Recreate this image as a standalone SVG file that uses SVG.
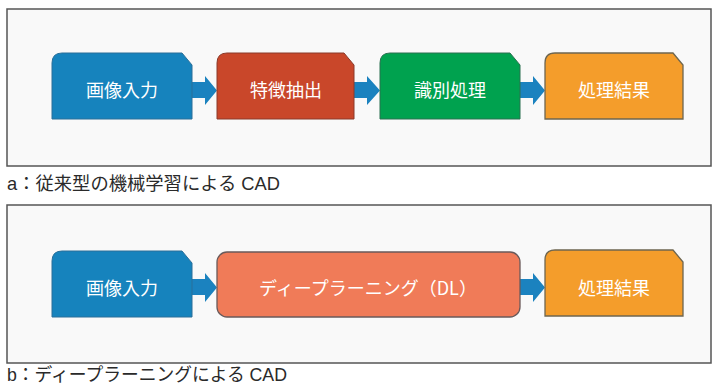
<svg xmlns="http://www.w3.org/2000/svg" width="718" height="388" viewBox="0 0 718 388">
<style>
.frame{fill:#f9f9f9;stroke:#555;stroke-width:1.5}
.lbl{font-family:"Noto Sans CJK JP","Noto Sans",sans-serif;font-size:18px;fill:#fff;text-anchor:middle;dominant-baseline:central}
.cap{font-family:"Liberation Sans","Noto Sans CJK JP",sans-serif;font-size:18.5px;fill:#2a2a2a}
.arr{fill:#1b82bf}
.blue{fill:#1683bd;stroke:#2a6f99;stroke-width:1}
.red{fill:#c9472a;stroke:#8a3a2a;stroke-width:1}
.green{fill:#00a24f;stroke:#2a7050;stroke-width:1}
.orange{fill:#f49d2b;stroke:#6e6650;stroke-width:1.3}
.salmon{fill:#f07b58;stroke:#6a5a5a;stroke-width:1.3}
</style>
<rect class="frame" x="7" y="9" width="704" height="157"/>
<rect class="frame" x="7" y="205" width="704" height="158"/>
<g id="connectors">
<path class="arr" d="M192,82 H205 V76 L217,90.5 L205,105 V98 H192 Z"/>
<path class="arr" d="M354,82 H367 V76 L380,90.5 L367,105 V98 H354 Z"/>
<path class="arr" d="M520,82 H533 V76 L545,90.5 L533,105 V98 H520 Z"/>
<path class="arr" d="M192,279 H205 V273 L217,287.5 L205,302 V295 H192 Z"/>
<path class="arr" d="M520,279 H533 V273 L545,287.5 L533,302 V295 H520 Z"/>
</g>
<g id="a-input">
<path class="blue" d="M52,119 V63 Q52,53 62,53 H182 L192,65 V119 Z"/>
<text class="lbl" x="122" y="89">画像入力</text>
</g>
<g id="a-feature">
<path class="red" d="M217,119 V63 Q217,53 227,53 H344 L354,65 V119 Z"/>
<text class="lbl" x="286" y="89">特徴抽出</text>
</g>
<g id="a-classify">
<path class="green" d="M380,119 V63 Q380,53 390,53 H510 L520,65 V119 Z"/>
<text class="lbl" x="450" y="89">識別処理</text>
</g>
<g id="a-result">
<path class="orange" d="M545,119 V63 Q545,53 555,53 H673 L683,65 V119 Z"/>
<text class="lbl" x="614" y="89">処理結果</text>
</g>
<text class="cap" x="7" y="190" textLength="273" lengthAdjust="spacingAndGlyphs">a：従来型の機械学習による CAD</text>
<g id="b-input">
<path class="blue" d="M52,317 V261 Q52,251 62,251 H182 L192,263 V317 Z"/>
<text class="lbl" x="122" y="287">画像入力</text>
</g>
<g id="b-dl">
<rect class="salmon" x="217" y="252" width="303" height="65" rx="10"/>
<text class="lbl" x="368" y="287">ディープラーニング（DL）</text>
</g>
<g id="b-result">
<path class="orange" d="M545,316 V260 Q545,250 555,250 H673 L683,262 V316 Z"/>
<text class="lbl" x="614" y="287">処理結果</text>
</g>
<text class="cap" x="7" y="381" textLength="280" lengthAdjust="spacingAndGlyphs">b：ディープラーニングによる CAD</text>
</svg>
